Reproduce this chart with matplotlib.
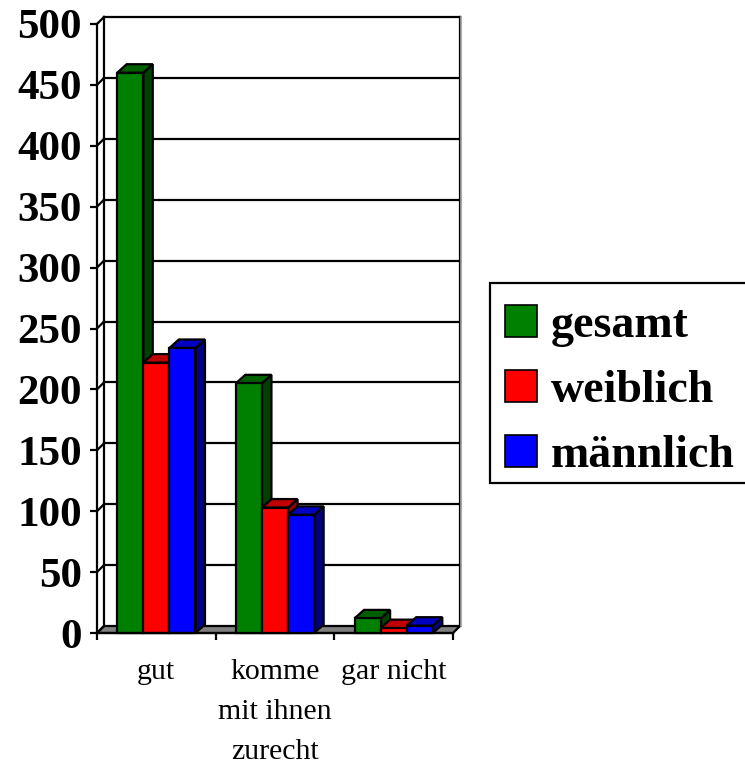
import matplotlib
matplotlib.use("Agg")
import matplotlib.pyplot as plt
from matplotlib.patches import Polygon, Rectangle, Patch

# ---- data ----
categories = ["gut", "komme\nmit ihnen\nzurecht", "gar nicht"]
series_names = ["gesamt", "weiblich", "männlich"]
gesamt = [460, 205, 12]
weiblich = [222, 103, 4]
maennlich = [234, 97, 6]
yticks = [0, 50, 100, 150, 200, 250, 300, 350, 400, 450, 500]

series_values = [gesamt, weiblich, maennlich]
front_colors = ["#008000", "#ff0000", "#0000ff"]
top_colors = ["#006000", "#c00000", "#0000c0"]
side_colors = ["#004000", "#900000", "#000080"]

W, H = 745, 765
fig = plt.figure(figsize=(W / 100, H / 100), dpi=100)
fig.patch.set_facecolor("white")

# front plot rectangle in pixels
x0p, x1p, y0p, y1p = 97, 453, 633, 24
ax = fig.add_axes([x0p / W, 1 - y0p / H, (x1p - x0p) / W, (y0p - y1p) / H])
ncat = len(categories)
ymax = yticks[-1]
ax.set_xlim(0, ncat)
ax.set_ylim(0, ymax)
ax.set_facecolor("none")
for s in ax.spines.values():
    s.set_visible(False)

px_x = ncat / (x1p - x0p)          # data units per pixel (x)
px_y = ymax / (y0p - y1p)          # data units per pixel (y)
wdx, wdy = 7 * px_x, 7 * px_y      # wall depth
bdx, bdy = 9.5 * px_x, 8.5 * px_y  # bar depth

lw = 1.6
K = "black"
# floor
ax.add_patch(Polygon([(0, 0), (ncat, 0), (ncat + wdx, wdy), (wdx, wdy)], closed=True,
                     facecolor="#808080", edgecolor=K, lw=lw, clip_on=False, zorder=1))
# back wall gridlines and left wall connectors
for v in yticks[1:]:
    ax.plot([wdx, ncat + wdx], [v + wdy, v + wdy], color=K, lw=lw, clip_on=False, zorder=1)
for v in yticks:
    ax.plot([0, wdx], [v, v + wdy], color=K, lw=lw, clip_on=False, zorder=1)
# wall edges
ax.plot([wdx, wdx], [wdy, ymax + wdy], color=K, lw=lw, clip_on=False, zorder=1)
ax.plot([ncat + wdx, ncat + wdx], [wdy, ymax + wdy], color=K, lw=lw, clip_on=False, zorder=1)
ax.plot([ncat + wdx + 1.5 * px_x] * 2, [wdy, ymax + wdy], color="#a0a0a0", lw=1.2,
        clip_on=False, zorder=1)
# front axis lines
ax.plot([0, 0], [0, ymax], color=K, lw=lw, clip_on=False, zorder=5)
ax.plot([0, ncat], [0, 0], color=K, lw=lw, clip_on=False, zorder=5)

# bars
bw = 0.22
gap = (1 - 3 * bw) / 2
z = 2
for i in range(ncat):
    for j, vals in enumerate(series_values):
        v = vals[i]
        l = i + gap + j * bw
        r = l + bw
        ax.add_patch(Polygon([(r, 0), (r + bdx, bdy), (r + bdx, v + bdy), (r, v)], closed=True,
                             facecolor=side_colors[j], edgecolor=K, lw=lw, clip_on=False, zorder=z))
        ax.add_patch(Polygon([(l, v), (r, v), (r + bdx, v + bdy), (l + bdx, v + bdy)], closed=True,
                             facecolor=top_colors[j], edgecolor=K, lw=lw, clip_on=False, zorder=z))
        ax.add_patch(Rectangle((l, 0), bw, v, facecolor=front_colors[j], edgecolor=K, lw=lw,
                               clip_on=False, zorder=z))
        z += 1

# ticks
ax.set_yticks(yticks)
ax.set_yticklabels([str(t) for t in yticks], fontfamily="Liberation Serif",
                   fontweight="bold", fontsize=31)
ax.tick_params(axis="y", direction="out", length=5, width=lw, pad=6)
ax.set_xticks(range(ncat + 1))
ax.set_xticklabels([])
ax.tick_params(axis="x", which="major", direction="out", length=5, width=lw)
ax.set_xticks([i + 0.5 for i in range(ncat)], minor=True)
ax.set_xticklabels(categories, minor=True, fontfamily="Liberation Serif", fontsize=21.5,
                   linespacing=1.68)
ax.tick_params(axis="x", which="minor", length=0, pad=19)

# legend frame (drawn separately) and legend entries
fig.add_artist(Rectangle((490 / W, 1 - 483 / H), (752 - 490) / W, 200 / H,
                         transform=fig.transFigure, facecolor="white", edgecolor=K,
                         lw=1.6, zorder=3))
handles = [Patch(facecolor=c, edgecolor=K, lw=1.2) for c in front_colors]
leg = fig.legend(handles, series_names, loc="upper left",
                 bbox_to_anchor=(490 / W, 1 - 290 / H), borderaxespad=0,
                 prop={"family": "Liberation Serif", "weight": "bold", "size": 33},
                 handlelength=0.7, handleheight=0.7, handletextpad=0.3,
                 labelspacing=0.5, borderpad=0.33, frameon=False)
leg.set_zorder(4)

fig.savefig("out.png", dpi=100)
